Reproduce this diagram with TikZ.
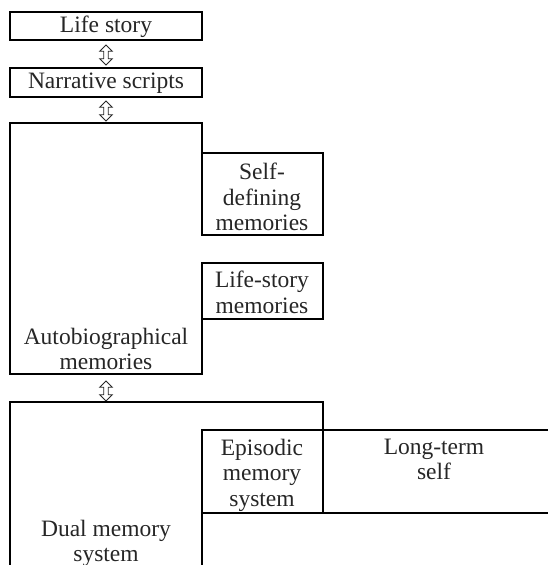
\documentclass[tikz,border=0pt]{standalone}
\usepackage{fontspec}
\setmainfont{Liberation Serif}
\usetikzlibrary{shapes.arrows}
\begin{document}
\begin{tikzpicture}[x=1pt,y=-1pt,
  line/.style={line width=1.1pt, draw=black},
  lbl/.style={align=center, inner sep=0pt, text=black!85, font=\fontsize{23.5}{25.5}\selectfont},
  updown/.style={double arrow, draw=black!85, line width=0.9pt, rotate=90,
     minimum height=20pt, minimum width=12pt, inner sep=1.8pt,
     double arrow head extend=4pt}]
\useasboundingbox (0,0) rectangle (548,565);
% top boxes
\draw[line] (10,12) rectangle (202,40);
\node[lbl] (life) at (106,26.5) {Life story};
\node[updown] (a1) at (106,55) {};
\draw[line] (10,68) rectangle (202,97);
\node[lbl] (narr) at (106,83) {Narrative scripts};
\node[updown] (a2) at (106,111) {};
% autobiographical memories
\draw[line] (202,153) -- (202,123) -- (10,123) -- (10,374) -- (202,374) -- (202,319);
\draw[line] (202,153) rectangle (323,235);
\node[lbl] (self) at (262,197) {Self-\\defining\\memories};
\draw[line] (202,263) rectangle (323,319);
\node[lbl] (lsm) at (262,292.5) {Life-story\\memories};
\node[lbl] (auto) at (106,349) {Autobiographical\\memories};
\node[updown] (a3) at (106,391) {};
% dual memory system
\draw[line] (323,430) -- (323,402) -- (10,402) -- (10,566);
\draw[line] (202,566) -- (202,430) -- (548,430);
\draw[line] (202,513) -- (548,513);
\draw[line] (323,430) -- (323,513);
\node[lbl] (epi) at (262,475) {Episodic\\memory\\system};
\node[lbl] (lts) at (434,459.5) {Long-term\\self};
\node[lbl] (dual) at (106,543.5) {Dual memory\\system};
\end{tikzpicture}
\end{document}
